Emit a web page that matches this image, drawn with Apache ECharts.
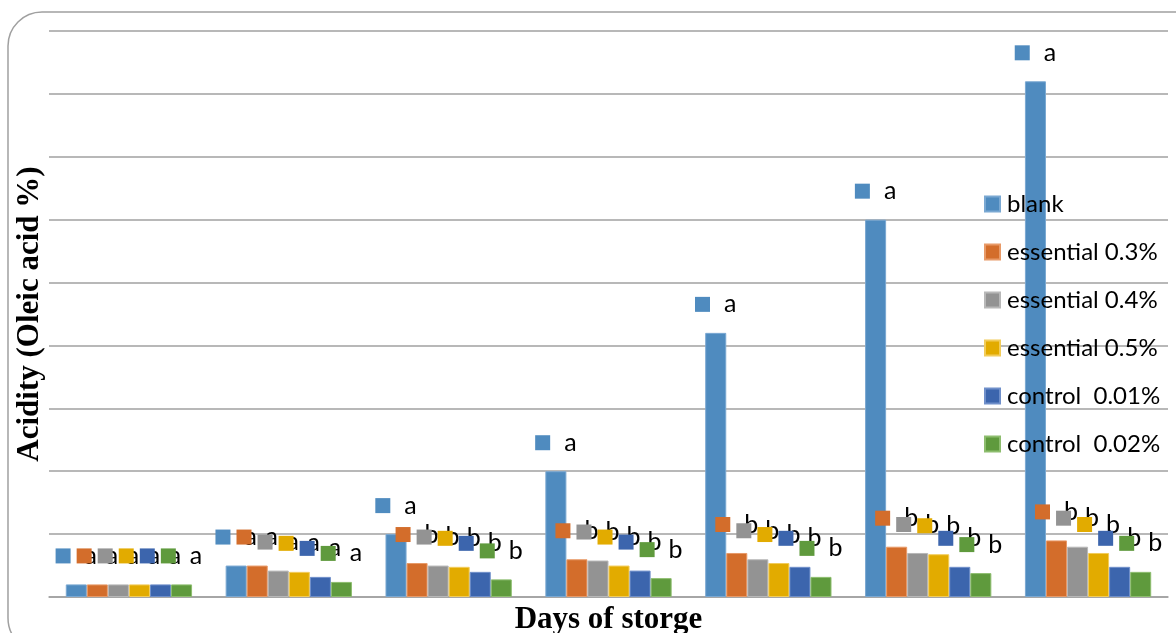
<!DOCTYPE html>
<html>
<head>
<meta charset="utf-8">
<script src="https://cdn.jsdelivr.net/npm/echarts@6/dist/echarts.min.js"></script>
<style>
  html, body { margin: 0; padding: 0; background: #fff; }
  #main { width: 1176px; height: 633px; }
</style>
</head>
<body>
<div id="main"></div>
<script>
// 贮藏天数（图中没有刻度文字）
var days = ['d1', 'd2', 'd3', 'd4', 'd5', 'd6', 'd7'];

var blank    = [0.10, 0.25, 0.50, 1.00, 2.10, 3.00, 4.10];
var ess03    = [0.10, 0.25, 0.27, 0.30, 0.35, 0.40, 0.45];
var ess04    = [0.10, 0.21, 0.25, 0.29, 0.30, 0.35, 0.40];
var ess05    = [0.10, 0.20, 0.24, 0.25, 0.27, 0.34, 0.35];
var ctrl001  = [0.10, 0.16, 0.20, 0.21, 0.24, 0.24, 0.24];
var ctrl002  = [0.10, 0.12, 0.14, 0.15, 0.16, 0.19, 0.20];

// 显著性字母
var lettersBlank = ['a', 'a', 'a', 'a', 'a', 'a', 'a'];
var lettersOther = ['a', 'a', 'b', 'b', 'b', 'b', 'b'];

var names  = ['blank', 'essential 0.3%', 'essential 0.4%', 'essential 0.5%', 'control  0.01%', 'control  0.02%'];
var values = [blank, ess03, ess04, ess05, ctrl001, ctrl002];
var colors = ['#4f8bbf', '#d36d2b', '#939393', '#e2ab00', '#3c65ad', '#5f9a3d'];
var borders = ['#7aa8d2', '#e89a68', '#b8b8b8', '#f2cc5a', '#6f8fca', '#8dbd6e'];

var chartDom = document.getElementById('main');
var myChart = echarts.init(chartDom);

var series = names.map(function (name, i) {
    var letters = i === 0 ? lettersBlank : lettersOther;
    return {
        name: name,
        type: 'bar',
        barGap: '0%',
        barCategoryGap: '21%',
        data: values[i],
        itemStyle: {
            color: colors[i],
            borderColor: borders[i],
            borderWidth: 1
        },
        label: {
            show: true,
            position: 'top',
            distance: 16,
            formatter: function (p) {
                return '{sq|}{t|' + letters[p.dataIndex] + '}';
            },
            rich: {
                sq: { width: 15, height: 15, backgroundColor: colors[i] },
                t: { fontFamily: 'Lato', fontSize: 25, color: '#000', padding: [0, 0, 0, 14], lineHeight: 25 }
            }
        }
    };
});

var option = {
    animation: false,
    graphic: [{
        type: 'rect',
        shape: { x: 8, y: 12, width: 1200, height: 640, r: 34 },
        style: { fill: 'none', stroke: '#a0a0a0', lineWidth: 1.5 },
        z: -1
    }],
    legend: {
        orient: 'vertical',
        left: 984,
        top: 192,
        padding: 0,
        icon: 'rect',
        itemWidth: 15,
        itemHeight: 15,
        itemGap: 24,
        data: names,
        textStyle: {
            fontFamily: 'Lato',
            fontSize: 24,
            color: '#000',
            lineHeight: 24,
            padding: [0, 0, 0, 2]
        }
    },
    grid: {
        left: 49,
        right: 8,
        top: 31,
        bottom: 36,
        outerBoundsMode: 'none'
    },
    xAxis: {
        type: 'category',
        data: days,
        axisLine: { lineStyle: { color: '#a0a0a0', width: 1.5 } },
        axisTick: { show: false },
        axisLabel: { show: false },
        name: 'Days of storge',
        nameLocation: 'middle',
        nameGap: 7,
        nameTextStyle: {
            fontFamily: 'Liberation Serif',
            fontWeight: 'bold',
            fontSize: 31,
            color: '#000',
            verticalAlign: 'top'
        }
    },
    yAxis: {
        type: 'value',
        min: 0,
        max: 4.5,
        interval: 0.5,
        axisLabel: { show: false },
        axisLine: { show: false },
        axisTick: { show: false },
        splitLine: { lineStyle: { color: '#a0a0a0', width: 1.5 } },
        name: 'Acidity (Oleic acid %)',
        nameLocation: 'middle',
        nameRotate: 90,
        nameGap: 4,
        nameTextStyle: {
            fontFamily: 'Liberation Serif',
            fontWeight: 'bold',
            fontSize: 31,
            color: '#000'
        }
    },
    series: series
};

option && myChart.setOption(option);
</script>
</body>
</html>
